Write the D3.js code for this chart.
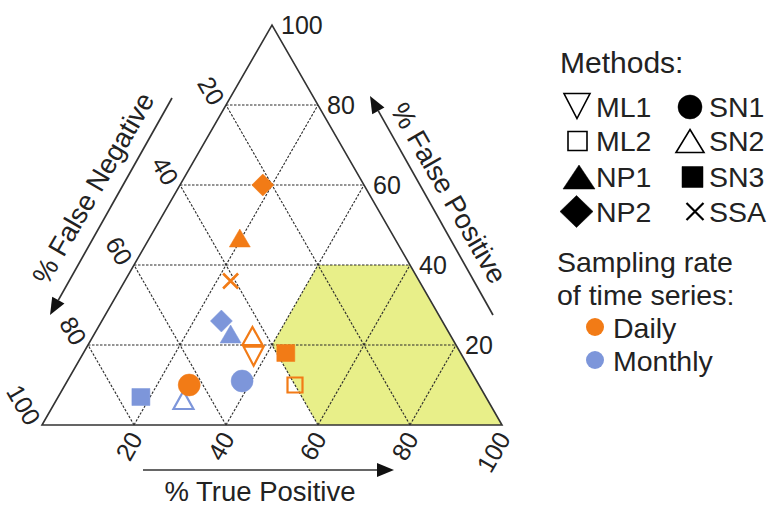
<!DOCTYPE html>
<html>
<head>
<meta charset="utf-8">
<script src="https://cdn.jsdelivr.net/npm/d3@7"></script>
<style>
  html, body { margin: 0; padding: 0; background: #fff; }
  svg { display: block; font-family: "Liberation Sans", Arial, Helvetica, sans-serif; }
</style>
</head>
<body>
<svg id="chart" width="775" height="506"></svg>
<script>
// Ternary diagram: % True Positive (bottom-right corner), % False Positive (top corner),
// % False Negative (bottom-left corner).
const tickValues = [20, 40, 60, 80, 100];
const gridValues = [20, 40, 60, 80];

const methodNames = ["ML1", "ML2", "NP1", "NP2", "SN1", "SN2", "SN3", "SSA"];
const rateNames = ["Daily", "Monthly"];

// One entry per plotted result (drawn in this order)
const pointMethod = ["SN3", "SN2", "NP1", "NP2", "SN1", "SN1", "SN2", "ML1", "NP1", "SSA", "NP2", "SN3", "ML2"];
const pointRate   = ["Monthly", "Monthly", "Monthly", "Monthly", "Monthly",
                     "Daily", "Daily", "Daily", "Daily", "Daily", "Daily", "Daily", "Daily"];
const truePositive  = [18, 28,  30, 26, 38, 27, 35,   37, 20, 23, 18, 44, 50];
const falsePositive = [ 7,  5.5, 22, 26, 11, 10, 21.5, 18, 46, 36, 60, 18, 10];
const falseNegative = [75, 66.5, 48, 48, 51, 63, 43.5, 45, 34, 41, 22, 38, 40];

// Target zone corners (TP, FP)
const targetTP = [60, 100, 60, 40, 40];
const targetFP = [ 0,   0, 40, 40, 20];

// ---------------------------------------------------------------------
const colors = { Daily: "#f27b16", Monthly: "#7d96da" };
const ink = "#222";

const svg = d3.select("#chart");

// horizontal position comes from TP + FP/2, vertical from FP
const xScale = d3.scaleLinear().domain([0, 100]).range([42, 502]);
const yScale = d3.scaleLinear().domain([0, 100]).range([425, 25]);
const project = (tp, fp) => [xScale(tp + fp / 2), yScale(fp)];

const line = d3.line();

// target zone
svg.append("path")
  .attr("d", line(targetTP.map((t, i) => project(t, targetFP[i]))) + "Z")
  .attr("fill", "#e8ef89");

// dashed grid
const grid = svg.append("g")
  .attr("fill", "none")
  .attr("stroke", "#2a2a2a")
  .attr("stroke-width", 1.1)
  .attr("stroke-dasharray", "2.5,1.5");
gridValues.forEach(v => {
  // constant FP
  grid.append("path").attr("d", line([project(0, v), project(100 - v, v)]));
  // constant TP
  grid.append("path").attr("d", line([project(v, 0), project(v, 100 - v)]));
  // constant FN
  grid.append("path").attr("d", line([project(100 - v, 0), project(0, 100 - v)]));
});

// outline
svg.append("path")
  .attr("d", line([project(0, 0), project(100, 0), project(0, 100)]) + "Z")
  .attr("fill", "none")
  .attr("stroke", "#333")
  .attr("stroke-width", 1.6)
  .attr("stroke-linejoin", "miter");

// tick labels
const ticks = svg.append("g").attr("fill", ink).attr("font-size", 25);
tickValues.forEach(v => {
  const [bx, by] = project(v, 0);                 // % True Positive
  ticks.append("text")
    .attr("transform", `translate(${bx + 2},${by + 9}) rotate(-60)`)
    .attr("text-anchor", "end").attr("dy", "0.35em").text(v);
  const [rx, ry] = project(100 - v, v);           // % False Positive
  ticks.append("text")
    .attr("x", rx + 9).attr("y", ry)
    .attr("text-anchor", "start").attr("dy", "0.35em").text(v);
  const [lx, ly] = project(0, 100 - v);           // % False Negative
  ticks.append("text")
    .attr("transform", `translate(${lx - 8},${ly - 2}) rotate(60)`)
    .attr("text-anchor", "end").attr("dy", "0.35em").text(v);
});

// axis arrows and titles
function arrow(x1, y1, x2, y2) {
  const a = Math.atan2(y2 - y1, x2 - x1);
  const len = 17, half = 7;
  const bx = x2 - len * Math.cos(a), by = y2 - len * Math.sin(a);
  svg.append("path")
    .attr("d", line([[x1, y1], [bx, by]]))
    .attr("stroke", "#333").attr("stroke-width", 1.7).attr("fill", "none");
  svg.append("path")
    .attr("d", line([[x2, y2],
      [bx + half * Math.sin(a), by - half * Math.cos(a)],
      [bx - half * Math.sin(a), by + half * Math.cos(a)]]) + "Z")
    .attr("fill", "#111");
}
arrow(143, 470, 394, 470);
arrow(172, 98, 50, 315);
arrow(493, 315, 370, 96);

const titles = svg.append("g").attr("fill", ink).attr("font-size", 27.5).attr("text-anchor", "middle");
titles.append("text").attr("x", 260).attr("y", 501).text("% True Positive");
titles.append("text").attr("transform", "translate(93,188) rotate(-60)").attr("dy", "0.35em").text("% False Negative");
titles.append("text").attr("transform", "translate(449,193) rotate(60)").attr("dy", "0.35em").text("% False Positive");

// marker shapes
const shapeOf = {
  ML1: { kind: "triDown", open: true },
  ML2: { kind: "square", open: true },
  NP1: { kind: "triUp", open: false },
  NP2: { kind: "diamond", open: false },
  SN1: { kind: "circle", open: false },
  SN2: { kind: "triUp", open: true },
  SN3: { kind: "square", open: false },
  SSA: { kind: "cross", open: true }
};

// path centred on the centroid (anchor "c") or on the bounding box (anchor "b")
function markerPath(kind, w, h, anchor) {
  const p = d3.path();
  if (kind === "triUp" || kind === "triDown") {
    const s = kind === "triUp" ? 1 : -1;
    const top = anchor === "b" ? -h / 2 : -2 * h / 3;
    const bot = anchor === "b" ? h / 2 : h / 3;
    p.moveTo(0, s * top); p.lineTo(w / 2, s * bot); p.lineTo(-w / 2, s * bot); p.closePath();
  } else if (kind === "square") {
    p.rect(-w / 2, -h / 2, w, h);
  } else if (kind === "diamond") {
    p.moveTo(0, -h / 2); p.lineTo(w / 2, 0); p.lineTo(0, h / 2); p.lineTo(-w / 2, 0); p.closePath();
  } else if (kind === "circle") {
    p.arc(0, 0, w / 2, 0, 2 * Math.PI);
  } else if (kind === "cross") {
    p.moveTo(-w / 2, -h / 2); p.lineTo(w / 2, h / 2);
    p.moveTo(w / 2, -h / 2); p.lineTo(-w / 2, h / 2);
  }
  return p.toString();
}

const chartSize = {
  ML1: [20, 19], ML2: [15, 15], NP1: [21, 18], NP2: [22, 22],
  SN1: [22, 22], SN2: [20, 18], SN3: [18, 17], SSA: [15, 15]
};

const pts = svg.append("g");
pointMethod.forEach((m, i) => {
  const [x, y] = project(truePositive[i], falsePositive[i]);
  const sh = shapeOf[m], c = colors[pointRate[i]];
  const [w, h] = chartSize[m];
  pts.append("path")
    .attr("transform", `translate(${x},${y})`)
    .attr("d", markerPath(sh.kind, w, h, "c"))
    .attr("fill", sh.open ? "none" : c)
    .attr("stroke", c)
    .attr("stroke-width", sh.open ? (m === "SSA" ? 2.6 : 2.2) : 0.5)
    .attr("stroke-linejoin", "miter");
});

// legend: methods
const legend = svg.append("g").attr("fill", ink).attr("font-size", 28.5);
legend.append("text").attr("x", 560).attr("y", 73).attr("font-size", 30).text("Methods:");

const legendSize = {
  ML1: [26, 25], ML2: [19, 19], NP1: [32, 24], NP2: [33, 32],
  SN1: [24, 24], SN2: [28, 23], SN3: [21, 21], SSA: [17, 17]
};
const legendSymbolX = [577, 577.5, 579, 576.5, 690, 690, 692.5, 695];
const legendRowY = [107, 141, 177, 211.5];
methodNames.forEach((m, i) => {
  const col = Math.floor(i / 4), row = i % 4;
  const y = legendRowY[row];
  const sh = shapeOf[m];
  const [w, h] = legendSize[m];
  legend.append("path")
    .attr("transform", `translate(${legendSymbolX[i]},${y - (m === "ML1" ? 1 : 0)})`)
    .attr("d", markerPath(sh.kind, w, h, "b"))
    .attr("fill", sh.open ? "none" : "#000")
    .attr("stroke", "#000")
    .attr("stroke-width", sh.open ? (m === "SSA" ? 2.2 : 1.6) : 0.5);
  legend.append("text")
    .attr("x", col === 0 ? 596 : 709)
    .attr("y", y + 10)
    .text(m);
});

// legend: sampling rate
legend.append("text").attr("x", 557).attr("y", 272).text("Sampling rate");
legend.append("text").attr("x", 557).attr("y", 305).text("of time series:");
rateNames.forEach((r, i) => {
  const y = 327 + i * 33;
  legend.append("circle").attr("cx", 595).attr("cy", y).attr("r", 9).attr("fill", colors[r]);
  legend.append("text").attr("x", 613).attr("y", y + 11).text(r);
});
</script>
</body>
</html>
